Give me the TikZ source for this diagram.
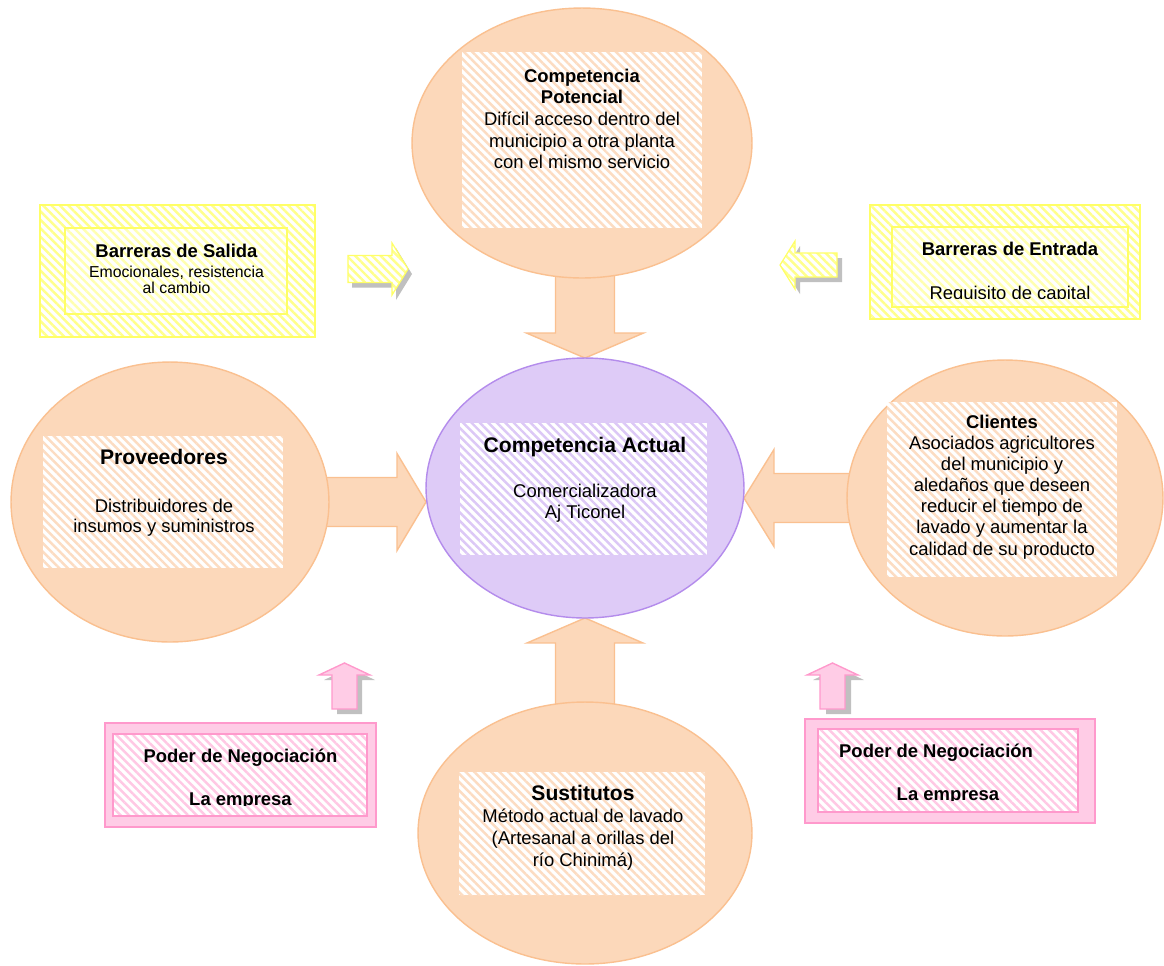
\documentclass[tikz,border=0pt]{standalone}
\usepackage{fontspec}
\setmainfont{Liberation Sans}
\usetikzlibrary{shapes.geometric,calc,backgrounds,patterns.meta}
\definecolor{orBd}{HTML}{FAC090}
\definecolor{orFill}{HTML}{FCD8BA}
\definecolor{orStripe}{HTML}{FCDCC2}
\definecolor{puBd}{HTML}{B48CEC}
\definecolor{puFill}{HTML}{DECBF7}
\definecolor{puStripe}{HTML}{DCC8F6}
\definecolor{yeBd}{HTML}{FFFF66}
\definecolor{yeStripe}{HTML}{FFFF8C}
\definecolor{yeStripeB}{HTML}{FFFFB0}
\definecolor{piBd}{HTML}{FF99CC}
\definecolor{piFill}{HTML}{FFCCE6}
\definecolor{piStripe}{HTML}{FFC8E4}
\definecolor{shd}{HTML}{C0C0C0}
\begin{document}
\begin{tikzpicture}[x=0.02cm,y=-0.02cm,
  every node/.style={inner sep=0pt,outer sep=0pt},
  oval/.style={ellipse, draw=orBd, fill=orFill, line width=0.8pt},
  ovalact/.style={ellipse, draw=puBd, fill=puFill, line width=0.8pt},
  stripes/.style={preaction={fill=white}, preaction={pattern={Lines[angle=-45,distance=3.4pt,line width=1.4pt]}, pattern color=#1}},
  inbox/.style={rectangle, stripes=#1},
  bigarrow/.style={draw=orBd, fill=orFill, line width=0.8pt, line join=miter},
  smallyel/.style={draw=yeBd, line width=0.7pt, stripes=yeStripe},
  smallpink/.style={draw=piBd, fill=piFill, line width=0.8pt},
  txt/.style={align=center, text=black},
]
\useasboundingbox (0,0) rectangle (1164,965);

% ellipses
\node[oval, minimum width=6.8cm, minimum height=5.4cm] (pot) at (582,143) {};
\node[ovalact, minimum width=6.36cm, minimum height=5.2cm] (act) at (585,488) {};
\node[oval, minimum width=6.36cm, minimum height=5.6cm] (prov) at (170,502) {};
\node[oval, minimum width=6.32cm, minimum height=5.52cm] (cli) at (1005,498) {};
\node[oval, minimum width=6.68cm, minimum height=5.24cm] (sus) at (585,833) {};

% inner striped rectangles
\node[inbox=orStripe, minimum width=4.8cm, minimum height=3.52cm] (potin) at (582,140) {};
\node[inbox=puStripe, minimum width=4.94cm, minimum height=2.64cm] (actin) at (583.5,489) {};
\node[inbox=orStripe, minimum width=4.8cm, minimum height=2.64cm] (provin) at (163,502) {};
\node[inbox=orStripe, minimum width=4.6cm, minimum height=3.5cm] (cliin) at (1002,489.5) {};
\node[inbox=orStripe, minimum width=4.92cm, minimum height=2.46cm] (susin) at (582,833.5) {};

% yellow boxes
\node[inbox=yeStripe, draw=yeBd, line width=0.7pt, minimum width=5.5cm, minimum height=2.64cm] (bsal) at (177.5,271) {};
\node[inbox=yeStripeB, draw=yeBd, line width=0.7pt, minimum width=4.44cm, minimum height=1.72cm] (bsalin) at (176,271) {};
\node[inbox=yeStripe, draw=yeBd, line width=0.7pt, minimum width=5.4cm, minimum height=2.28cm] (bent) at (1005,262) {};
\node[inbox=yeStripeB, draw=yeBd, line width=0.7pt, minimum width=4.72cm, minimum height=1.6cm] (bentin) at (1010,267) {};

% pink boxes
\node[rectangle, fill=piFill, draw=piBd, line width=1pt, minimum width=5.42cm, minimum height=2.08cm] (pl) at (240.5,775) {};
\node[inbox=piStripe, draw=piBd, line width=1pt, minimum width=5.08cm, minimum height=1.64cm] (plin) at (240,775) {};
\node[rectangle, fill=piFill, draw=piBd, line width=1pt, minimum width=5.8cm, minimum height=2.08cm] (pr) at (950,771) {};
\node[inbox=piStripe, draw=piBd, line width=1pt, minimum width=5.2cm, minimum height=1.66cm] (prin) at (948,770.5) {};

% texts
\node[txt, font=\fontsize{10.5}{12.3}\selectfont] (pott) at (582,119)
  {\textbf{Competencia}\\\textbf{Potencial}\\Difícil acceso dentro del\\municipio a otra planta\\con el mismo servicio};
\node[txt, font=\fontsize{10.5}{12}\selectfont] (actt) at (585,480)
  {{\fontsize{12}{14}\selectfont\bfseries Competencia Actual}\\[13.5pt]Comercializadora\\Aj Ticonel};
\node[txt, font=\fontsize{10.5}{11.5}\selectfont] (provt) at (164,493)
  {{\fontsize{12}{14}\selectfont\bfseries Proveedores}\\[15.7pt]Distribuidores de\\insumos y suministros};
\node[txt, font=\fontsize{10.5}{12}\selectfont] (clit) at (1002,487)
  {\textbf{Clientes}\\Asociados agricultores\\del municipio y\\aledaños que deseen\\reducir el tiempo de\\lavado y aumentar la\\calidad de su producto};
\node[txt, font=\fontsize{10.5}{12.6}\selectfont] (sust) at (583,828)
  {{\fontsize{12}{14}\selectfont\bfseries Sustitutos}\\Método actual de lavado\\(Artesanal a orillas del\\río Chinimá)};
\node[txt, font=\fontsize{9}{9.6}\selectfont] (bsalt) at (176.5,269)
  {{\fontsize{10.5}{12}\selectfont\bfseries Barreras de Salida}\\[1.7pt]Emocionales, resistencia\\al cambio};
\begin{scope}
  \clip (892,227) rectangle (1128,298);
  \node[txt, font=\fontsize{10.5}{12}\selectfont] (bentt) at (1010,273)
    {\textbf{Barreras de Entrada}\\[13pt]Requisito de capital};
\end{scope}
\begin{scope}
  \clip (113,734) rectangle (367,805);
  \node[txt, font=\bfseries\fontsize{10.5}{12}\selectfont] (plt) at (240.5,779)
    {Poder de Negociación\\[12.4pt]La empresa};
\end{scope}
\begin{scope}
  \clip (818,729) rectangle (1078,800);
  \node[txt, font=\bfseries\fontsize{10.5}{12}\selectfont] (prt) at (948,774)
    {Poder de Negociación\hspace*{13.6pt}\\[12.4pt]La empresa};
\end{scope}

% small arrows with shadows
\fill[shd, shift={(412,274)}] (-60,-13.5) -- (-16,-13.5) -- (-16,-26) -- (0,0) -- (-16,26) -- (-16,13.5) -- (-60,13.5) -- cycle;
\draw[smallyel, shift={(408,269)}] (-60,-13.5) -- (-16,-13.5) -- (-16,-26) -- (0,0) -- (-16,26) -- (-16,13.5) -- (-60,13.5) -- cycle;
\fill[shd, shift={(785,270)}] (0,0) -- (15,-24) -- (15,-12) -- (57,-12) -- (57,12) -- (15,12) -- (15,24) -- cycle;
\draw[smallyel, shift={(780,265)}] (0,0) -- (15,-24) -- (15,-12) -- (57,-12) -- (57,12) -- (15,12) -- (15,24) -- cycle;
\fill[shd, shift={(349.5,668)}] (0,0) -- (25.5,12) -- (12.5,12) -- (12.5,46) -- (-12.5,46) -- (-12.5,12) -- (-25.5,12) -- cycle;
\draw[smallpink, shift={(344.5,663)}] (0,0) -- (25.5,12) -- (12.5,12) -- (12.5,46) -- (-12.5,46) -- (-12.5,12) -- (-25.5,12) -- cycle;
\fill[shd, shift={(838.5,668)}] (0,0) -- (25.5,12) -- (12.5,12) -- (12.5,46) -- (-12.5,46) -- (-12.5,12) -- (-25.5,12) -- cycle;
\draw[smallpink, shift={(832.5,663)}] (0,0) -- (25.5,12) -- (12.5,12) -- (12.5,46) -- (-12.5,46) -- (-12.5,12) -- (-25.5,12) -- cycle;

% big block arrows (behind the ellipses)
\begin{pgfonlayer}{background}
\fill[white] (0,0) rectangle (1164,965);
\coordinate (t1) at (act.north);
\coordinate (s1) at (pot.south -| act.north);
\draw[bigarrow] ($(s1)+(-29.5,-20)$) -- ($(t1)+(-29.5,-25)$) -- ($(t1)+(-58.5,-25)$) -- (t1) -- ($(t1)+(58.5,-25)$) -- ($(t1)+(29.5,-25)$) -- ($(s1)+(29.5,-20)$) -- cycle;
\coordinate (t2) at (act.west |- prov.center);
\coordinate (s2) at (prov.east);
\draw[bigarrow] ($(s2)+(-20,-24.5)$) -- ($(t2)+(-29,-24.5)$) -- ($(t2)+(-29,-48.5)$) -- (t2) -- ($(t2)+(-29,48.5)$) -- ($(t2)+(-29,24.5)$) -- ($(s2)+(-20,24.5)$) -- cycle;
\coordinate (t3) at (act.east |- cli.center);
\coordinate (s3) at (cli.west);
\draw[bigarrow] ($(s3)+(20,-24.5)$) -- ($(t3)+(30,-24.5)$) -- ($(t3)+(30,-48.5)$) -- (t3) -- ($(t3)+(30,48.5)$) -- ($(t3)+(30,24.5)$) -- ($(s3)+(20,24.5)$) -- cycle;
\coordinate (t4) at (act.south);
\coordinate (s4) at (sus.north -| act.south);
\draw[bigarrow] ($(s4)+(-29.5,20)$) -- ($(t4)+(-29.5,25)$) -- ($(t4)+(-58,25)$) -- (t4) -- ($(t4)+(58,25)$) -- ($(t4)+(29.5,25)$) -- ($(s4)+(29.5,20)$) -- cycle;
\end{pgfonlayer}
\end{tikzpicture}
\end{document}
